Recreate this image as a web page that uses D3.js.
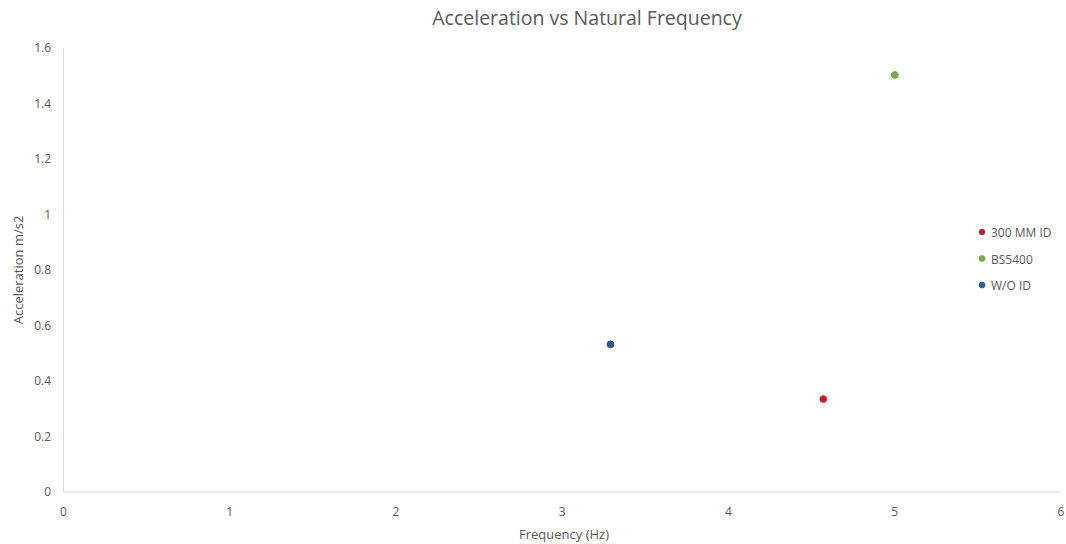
<!DOCTYPE html>
<html>
<head>
<meta charset="utf-8">
<script src="https://cdn.jsdelivr.net/npm/d3@7"></script>
<style>
  body { margin: 0; background: #fff; }
  text { font-family: "Open Sans", "Liberation Sans", sans-serif; fill: #595959; }
</style>
</head>
<body>
<div id="chart"></div>
<script>
// series data
var seriesNames = ["300 MM ID", "BS5400", "W/O ID"];
var freqValues = [4.57, 5.0, 3.29];      // Frequency (Hz)
var accelValues = [0.335, 1.503, 0.532];  // Acceleration m/s2
var fillColors = ["#FF0000", "#70AD47", "#255E91"];
var strokeColors = ["#4472C4", "#70AD47", "#255E91"];
var xTicks = [0, 1, 2, 3, 4, 5, 6];
var yTicks = [0, 0.2, 0.4, 0.6, 0.8, 1, 1.2, 1.4, 1.6];

var width = 1066;   // 画布宽度
var height = 544;   // 画布高度

var svg = d3.select("#chart")
  .append("svg")
  .attr("width", width)
  .attr("height", height);

var x = d3.scaleLinear().domain([0, 6]).range([63.5, 1061]);
var y = d3.scaleLinear().domain([0, 1.6]).range([492, 48]);

// axis lines
svg.append("line")
  .attr("x1", x(0)).attr("x2", x(0))
  .attr("y1", y(0)).attr("y2", y(1.6))
  .attr("stroke", "#D9D9D9").attr("stroke-width", 1);
svg.append("line")
  .attr("x1", x(0)).attr("x2", x(6))
  .attr("y1", y(0)).attr("y2", y(0))
  .attr("stroke", "#D9D9D9").attr("stroke-width", 1);

// tick labels
svg.selectAll(".xt")
  .data(xTicks)
  .enter()
  .append("text")
  .attr("class", "xt")
  .attr("x", function (d) { return x(d); })
  .attr("y", 516)
  .attr("text-anchor", "middle")
  .attr("font-size", 12)
  .text(function (d) { return d; });

svg.selectAll(".yt")
  .data(yTicks)
  .enter()
  .append("text")
  .attr("class", "yt")
  .attr("x", 51)
  .attr("y", function (d) { return y(d) + 4; })
  .attr("text-anchor", "end")
  .attr("font-size", 12)
  .text(function (d) { return d; });

// titles
svg.append("text")
  .attr("x", 587).attr("y", 25)
  .attr("text-anchor", "middle")
  .attr("font-size", 19.5)
  .text("Acceleration vs Natural Frequency");

svg.append("text")
  .attr("x", 564).attr("y", 539)
  .attr("text-anchor", "middle")
  .attr("font-size", 13)
  .text("Frequency (Hz)");

svg.append("text")
  .attr("transform", "translate(23,270) rotate(-90)")
  .attr("text-anchor", "middle")
  .attr("font-size", 13)
  .text("Acceleration m/s2");

// points
svg.selectAll(".pt")
  .data(seriesNames)
  .enter()
  .append("circle")
  .attr("class", "pt")
  .attr("cx", function (d, i) { return x(freqValues[i]); })
  .attr("cy", function (d, i) { return y(accelValues[i]); })
  .attr("r", 3.5)
  .attr("fill", function (d, i) { return fillColors[i]; })
  .attr("stroke", function (d, i) { return strokeColors[i]; })
  .attr("stroke-width", 0.75);

// legend
var legend = svg.selectAll(".lg")
  .data(seriesNames)
  .enter()
  .append("g")
  .attr("class", "lg")
  .attr("transform", function (d, i) { return "translate(982," + (232 + i * 26.5) + ")"; });

legend.append("circle")
  .attr("r", 3)
  .attr("fill", function (d, i) { return fillColors[i]; })
  .attr("stroke", function (d, i) { return strokeColors[i]; })
  .attr("stroke-width", 0.75);

legend.append("text")
  .attr("x", 9)
  .attr("y", 5)
  .attr("font-size", 12)
  .text(function (d) { return d; });
</script>
</body>
</html>
